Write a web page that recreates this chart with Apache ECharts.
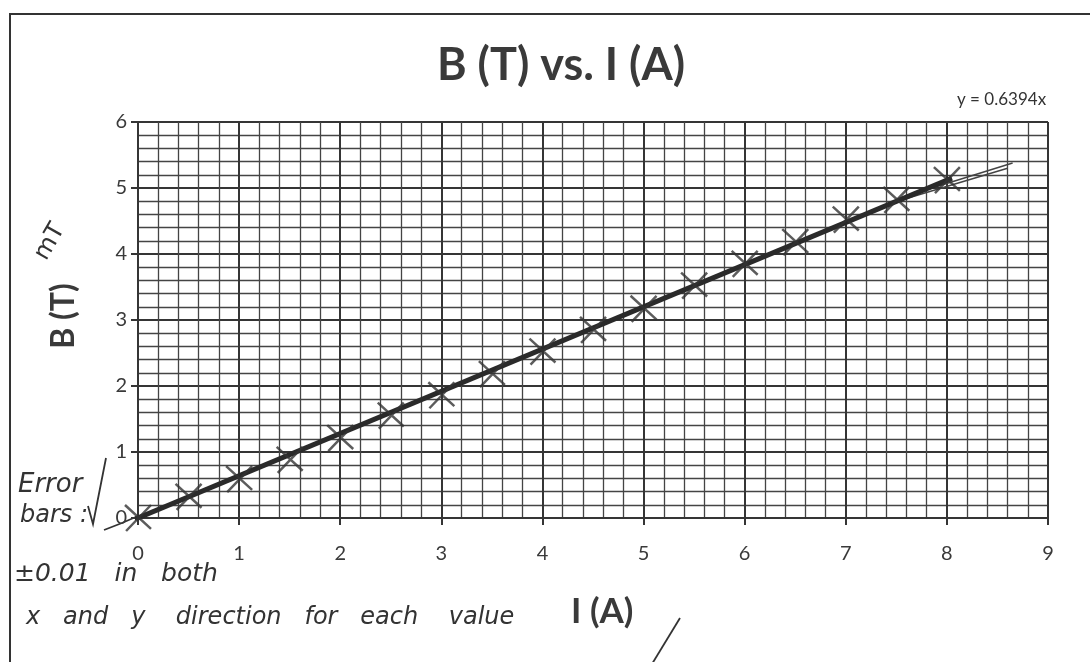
<!DOCTYPE html>
<html>
<head>
<meta charset="utf-8">
<script src="https://cdn.jsdelivr.net/npm/echarts@6/dist/echarts.min.js"></script>
<style>
html,body{margin:0;padding:0;background:#fff;}
#chart{width:1090px;height:662px;}
</style>
</head>
<body>
<div id="chart"></div>
<script>
// ---- data ----
const currentA = [0, 0.5, 1, 1.5, 2, 2.5, 3, 3.5, 4, 4.5, 5, 5.5, 6, 6.5, 7, 7.5, 8];
const fieldT   = [0, 0.32, 0.59, 0.88, 1.21, 1.55, 1.86, 2.18, 2.52, 2.85, 3.17, 3.52, 3.85, 4.18, 4.52, 4.82, 5.12];
const trendX = [-0.22, 8.05];
const trendY = [-0.14, 5.15];
const handLine1X = [7.6, 8.65];
const handLine1Y = [4.88, 5.38];
const handLine2X = [7.6, 8.6];
const handLine2Y = [4.84, 5.30];
const xTicks = [0, 1, 2, 3, 4, 5, 6, 7, 8, 9];
const yTicks = [0, 1, 2, 3, 4, 5, 6];
const titleText = 'B (T) vs. I (A)';
const eqText = 'y = 0.6394x';

const pts = currentA.map((x, i) => [x, fieldT[i]]);
const trend = trendX.map((x, i) => [x, trendY[i]]);
const hand1 = handLine1X.map((x, i) => [x, handLine1Y[i]]);
const hand2 = handLine2X.map((x, i) => [x, handLine2Y[i]]);

const chart = echarts.init(document.getElementById('chart'));
const gridColor = '#353535';
const handFont = '"DejaVu Sans", sans-serif';
const printFont = 'Lato, "Open Sans", sans-serif';

chart.setOption({
  backgroundColor: '#ffffff',
  animation: false,
  title: {
    text: titleText,
    left: 556, top: 38, textAlign: 'center',
    textStyle: { fontFamily: printFont, fontWeight: 'bold', fontSize: 45, color: '#3a3a3a' }
  },
  grid: { left: 138, right: 42, top: 122, bottom: 144 },
  xAxis: {
    type: 'value', min: xTicks[0], max: xTicks[xTicks.length - 1], interval: 1,
    axisLine: { show: true, onZero: false, lineStyle: { color: gridColor, width: 2 } },
    axisTick: { show: true, length: 7, lineStyle: { color: gridColor, width: 2 } },
    axisLabel: { margin: 26, fontSize: 20, color: '#3a3a3a', fontFamily: printFont },
    splitLine: { show: true, lineStyle: { color: gridColor, width: 2 } },
    minorTick: { show: false, splitNumber: 5 },
    minorSplitLine: { show: true, lineStyle: { color: '#444', width: 1.3 } }
  },
  yAxis: {
    type: 'value', min: yTicks[0], max: yTicks[yTicks.length - 1], interval: 1,
    axisLine: { show: true, onZero: false, lineStyle: { color: gridColor, width: 2 } },
    axisTick: { show: true, length: 7, lineStyle: { color: gridColor, width: 2 } },
    axisLabel: { margin: 11, fontSize: 20, color: '#3a3a3a', fontFamily: printFont },
    splitLine: { show: true, lineStyle: { color: gridColor, width: 2 } },
    minorTick: { show: false, splitNumber: 5 },
    minorSplitLine: { show: true, lineStyle: { color: '#444', width: 1.3 } }
  },
  series: [
    { type: 'line', data: hand1, symbol: 'none', lineStyle: { color: '#444', width: 1.5 }, z: 3 },
    { type: 'line', data: hand2, symbol: 'none', lineStyle: { color: '#444', width: 1.5 }, z: 3 },
    { type: 'line', data: trend, symbol: 'none', lineStyle: { color: '#2a2a2a', width: 5 }, z: 4 },
    {
      type: 'scatter', data: pts, z: 5,
      symbol: 'path://M0,0 L24,22 M24,0 L1,24',
      symbolSize: [26, 26],
      itemStyle: { color: 'rgba(0,0,0,0)', borderColor: '#333', borderWidth: 2.5 }
    }
  ],
  graphic: [
    { type: 'rect', shape: { x: 10, y: 14, width: 1100, height: 700 }, style: { fill: 'none', stroke: '#333', lineWidth: 2 }, z: -1, silent: true },
    { type: 'text', left: 957, top: 91, style: { text: eqText, fontSize: 17, fill: '#333', fontFamily: printFont } },
    { type: 'text', x: 64, y: 316, rotation: Math.PI / 2, style: { text: 'B (T)', fontSize: 32, fontWeight: 'bold', fill: '#3a3a3a', fontFamily: printFont, align: 'center', verticalAlign: 'middle' } },
    { type: 'text', x: 50, y: 242, rotation: Math.PI / 3, style: { text: 'mT', fontSize: 24, fill: '#333', fontFamily: handFont, align: 'center', verticalAlign: 'middle' } },
    { type: 'text', left: 571, top: 594, style: { text: 'I (A)', fontSize: 35, fontWeight: 'bold', fill: '#3a3a3a', fontFamily: printFont } },
    { type: 'line', shape: { x1: 680, y1: 618, x2: 652, y2: 664 }, style: { stroke: '#333', lineWidth: 1.8 } },
    { type: 'text', left: 18, top: 472, style: { text: 'Error', fontSize: 26, fill: '#333', fontFamily: handFont, fontStyle: 'italic' } },
    { type: 'text', left: 20, top: 504, style: { text: 'bars :', fontSize: 24, fill: '#333', fontFamily: handFont, fontStyle: 'italic' } },
    { type: 'polyline', shape: { points: [[88, 506], [93, 524], [106, 458]] }, style: { stroke: '#333', lineWidth: 1.8, fill: 'none' } },
    { type: 'polyline', shape: { points: [[104, 530], [122, 523], [138, 516]] }, style: { stroke: '#333', lineWidth: 1.8, fill: 'none' } },
    { type: 'text', left: 14, top: 562, style: { text: '±0.01   in   both', fontSize: 25, fill: '#333', fontFamily: handFont, fontStyle: 'italic' } },
    { type: 'text', left: 26, top: 606, style: { text: 'x   and   y    direction   for   each    value', fontSize: 24, fill: '#333', fontFamily: handFont, fontStyle: 'italic' } }
  ]
});
</script>
</body>
</html>
